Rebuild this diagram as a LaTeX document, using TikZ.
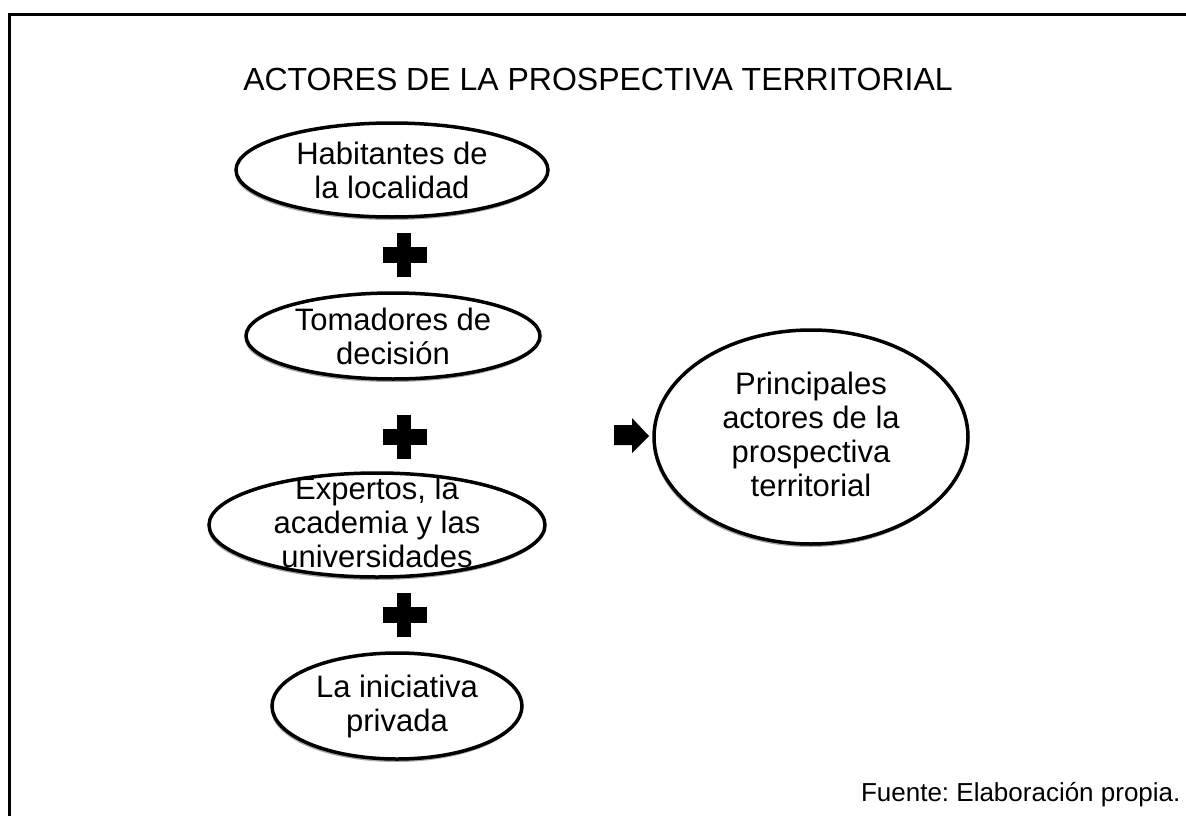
\documentclass[tikz,border=0pt]{standalone}
\usepackage{fontspec}
\setmainfont{Liberation Sans}
\frenchspacing
\usetikzlibrary{shapes.geometric,shadows}
\begin{document}
\begin{tikzpicture}[x=1pt,y=-1pt,
  actor/.style={ellipse,draw=black,line width=3.5pt,fill=white,inner sep=0pt,
    drop shadow={shadow xshift=-1pt,shadow yshift=-3pt,fill=gray!70,opacity=1}},
  txt/.style={align=center,inner sep=0pt,font=\fontsize{31}{34}\selectfont},
  plusmark/.style={fill=black},
  frameline/.style={line width=3pt,draw=black}]
\useasboundingbox (0,0) rectangle (1186,816);
% frame
\draw[frameline] (1190,14.5) -- (9.5,14.5) -- (9.5,820);
% title
\node[font=\fontsize{32}{36}\selectfont,anchor=base] (title) at (598,90) {ACTORES DE LA PROSPECTIVA TERRITORIAL};
% ellipses
\node[actor,minimum width=312pt,minimum height=94pt] (e1) at (392,170) {};
\node[txt] (t1) at (e1) {Habitantes de\\la localidad};
\node[actor,minimum width=294pt,minimum height=86pt] (e2) at (393,336) {};
\node[txt] (t2) at (e2) {Tomadores de\\decisión};
\node[actor,minimum width=336pt,minimum height=104pt] (e3) at (377,525) {};
\node[txt] (t3) at (377,522) {Expertos, la\\academia y las\\universidades};
\node[actor,minimum width=250pt,minimum height=106pt] (e4) at (397,706) {};
\node[txt] (t4) at (e4) {La iniciativa\\privada};
\node[actor,minimum width=314pt,minimum height=214pt] (e5) at (811,437) {};
\node[txt] (t5) at (811,434) {Principales\\actores de la\\prospectiva\\territorial};
% plus signs
\foreach \cy in {255,437,615}{
  \fill[plusmark] (397,\cy-22) rectangle (411,\cy+22);
  \fill[plusmark] (383,\cy-8) rectangle (427,\cy+8);
}
% block arrow
\fill[black] (614,425) -- (632,425) -- (632,418) -- (649,436) -- (632,453) -- (632,445) -- (614,445) -- cycle;
% source
\node[font=\fontsize{26}{30}\selectfont,anchor=base east] (src) at (1184,801) {Fuente: Elaboración propia.};
\end{tikzpicture}
\end{document}
